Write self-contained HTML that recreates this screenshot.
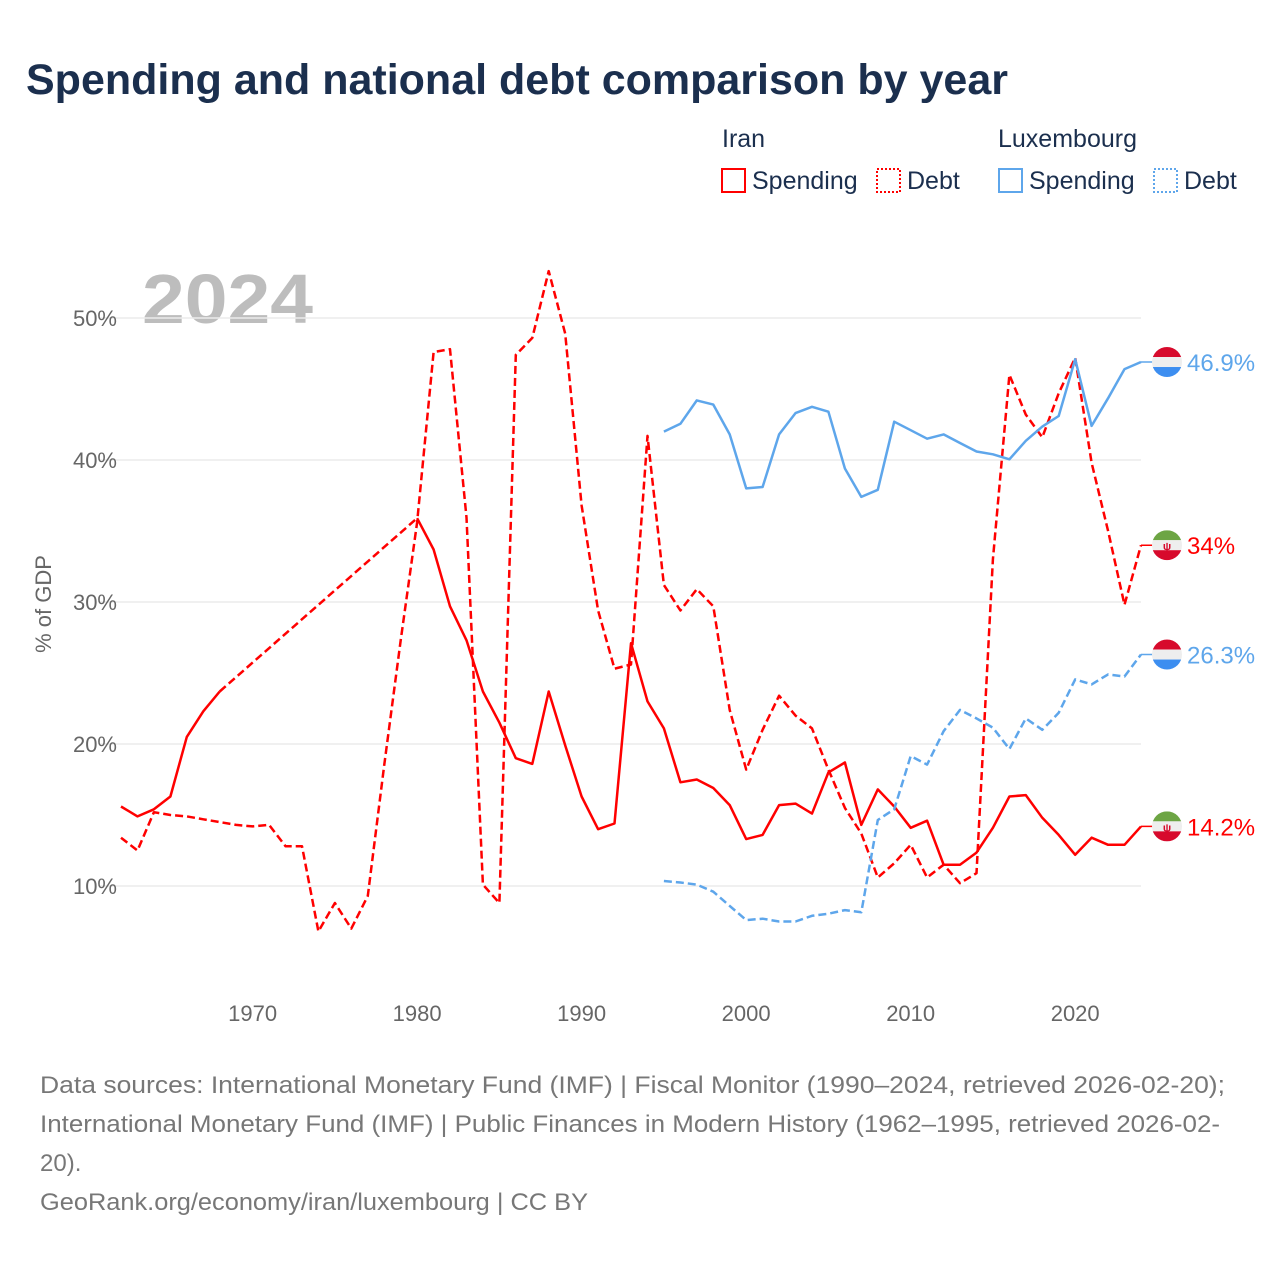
<!DOCTYPE html>
<html><head><meta charset="utf-8"><style>
body{margin:0;background:#fff;}
svg{display:block;font-family:"Liberation Sans",sans-serif;}
</style></head><body>
<svg id="chart" width="1280" height="1280" viewBox="0 0 1280 1280">
<text x="26" y="94" font-size="43" font-weight="bold" fill="#1b2f4e">Spending and national debt comparison by year</text>
<g font-size="25" fill="#1b2f4e">
<text x="722" y="147">Iran</text>
<text x="998" y="147">Luxembourg</text>
<g><rect x="722" y="169" width="23" height="23" fill="none" stroke="#ff0000" stroke-width="2"/><text x="752" y="189">Spending</text></g>
<g><rect x="877" y="169" width="23" height="23" fill="none" stroke="#ff0000" stroke-width="2" stroke-dasharray="2,2"/><text x="907" y="189">Debt</text></g>
<g><rect x="999" y="169" width="23" height="23" fill="none" stroke="#5ea6eb" stroke-width="2"/><text x="1029" y="189">Spending</text></g>
<g><rect x="1154" y="169" width="23" height="23" fill="none" stroke="#5ea6eb" stroke-width="2" stroke-dasharray="2,2"/><text x="1184" y="189">Debt</text></g>
</g>
<text x="142" y="323" font-size="70" font-weight="bold" fill="#bdbdbd" textLength="171" lengthAdjust="spacingAndGlyphs">2024</text>
<g id="grid"></g>
<g id="xaxis"></g>
<text transform="translate(51,604) rotate(-90)" text-anchor="middle" font-size="22" fill="#666">% of GDP</text>
<g id="series"></g>
<g id="ends"></g>
<g font-size="24" fill="#777">
<text x="40" y="1093" textLength="1185" lengthAdjust="spacingAndGlyphs">Data sources: International Monetary Fund (IMF) | Fiscal Monitor (1990–2024, retrieved 2026-02-20);</text>
<text x="40" y="1132" textLength="1180" lengthAdjust="spacingAndGlyphs">International Monetary Fund (IMF) | Public Finances in Modern History (1962–1995, retrieved 2026-02-</text>
<text x="40" y="1171">20).</text>
<text x="40" y="1210" textLength="548" lengthAdjust="spacingAndGlyphs">GeoRank.org/economy/iran/luxembourg | CC BY</text>
</g>
</svg>
<script>
const yTicks = [10, 20, 30, 40, 50];
const xTicks = [1970, 1980, 1990, 2000, 2010, 2020];
const iranYears = [1962,1963,1964,1965,1966,1967,1968,1969,1970,1971,1972,1973,1974,1975,1976,1977,1978,1979,1980,1981,1982,1983,1984,1985,1986,1987,1988,1989,1990,1991,1992,1993,1994,1995,1996,1997,1998,1999,2000,2001,2002,2003,2004,2005,2006,2007,2008,2009,2010,2011,2012,2013,2014,2015,2016,2017,2018,2019,2020,2021,2022,2023,2024];
const iranSpending = [15.6,14.9,15.4,16.3,20.5,22.3,23.7,null,null,null,null,null,null,null,null,null,null,null,35.9,33.7,29.7,27.3,23.7,21.5,19.0,18.6,23.7,19.9,16.3,14.0,14.4,27.1,23.0,21.1,17.3,17.5,16.9,15.7,13.3,13.6,15.7,15.8,15.1,18.0,18.7,14.3,16.8,15.6,14.1,14.6,11.5,11.5,12.35,14.1,16.3,16.4,14.8,13.6,12.2,13.4,12.9,12.9,14.2];
const iranDebt = [13.4,12.5,15.2,15.0,14.9,14.7,14.5,14.3,14.2,14.3,12.8,12.8,6.8,8.8,7.0,9.3,18.5,27.3,35.6,47.6,47.8,35.95,10.1,8.8,47.4,48.6,53.3,48.9,36.8,29.4,25.3,25.6,41.7,31.2,29.4,30.9,29.7,22.4,18.2,21.0,23.4,22.0,21.1,18.2,15.5,13.7,10.6,11.6,12.9,10.6,11.5,10.2,10.9,33.0,46.0,43.2,41.6,44.7,47.2,39.8,35.0,29.8,34.0];
const luxYears = [1995,1996,1997,1998,1999,2000,2001,2002,2003,2004,2005,2006,2007,2008,2009,2010,2011,2012,2013,2014,2015,2016,2017,2018,2019,2020,2021,2022,2023,2024];
const luxSpending = [42.0,42.55,44.2,43.9,41.8,38.0,38.1,41.8,43.3,43.75,43.4,39.4,37.4,37.9,42.7,42.1,41.5,41.8,41.2,40.6,40.4,40.05,41.35,42.35,43.1,47.1,42.4,44.35,46.4,46.9];
const luxDebt = [10.35,10.25,10.1,9.6,8.6,7.6,7.7,7.5,7.5,7.9,8.05,8.3,8.15,14.65,15.4,19.15,18.55,20.9,22.4,21.8,21.15,19.65,21.8,21.0,22.2,24.55,24.2,24.9,24.75,26.3];

const NS = 'http://www.w3.org/2000/svg';
const X0 = 121, X1 = 1141;
function xs(yr){ return X0 + (yr - 1962) * (X1 - X0) / (2024 - 1962); }
function ys(v){ return 886 - (v - 10) * 14.2; }
function mk(tag, attrs, parent){ const e = document.createElementNS(NS, tag); for (const k in attrs) e.setAttribute(k, attrs[k]); parent.appendChild(e); return e; }

const grid = document.getElementById('grid');
yTicks.forEach(t => {
  const l = mk('line', {x1: 100, x2: 1141, y1: ys(t), y2: ys(t), stroke: '#ebebeb', 'stroke-width': 1.5}, grid);
  
  
  const tx = mk('text', {x: 117, y: ys(t) + 8, 'text-anchor': 'end', 'font-size': 22, fill: '#666'}, grid);
  tx.textContent = t + '%';
  
  
});
const xa = document.getElementById('xaxis');
xTicks.forEach(t => {
  const tx = mk('text', {x: xs(t), y: 1021, 'text-anchor': 'middle', 'font-size': 22, fill: '#666'}, xa);
  tx.textContent = t;
  
  
});

const ser = document.getElementById('series');
function drawSeries(years, vals, color, dashed, name){
  const g = mk('g', {}, ser);
  
  
  let d = '', pen = false, gapD = '', last = null;
  years.forEach((yr, i) => {
    const v = vals[i];
    if (v == null) { pen = false; return; }
    const p = xs(yr).toFixed(1) + ',' + ys(v).toFixed(1);
    if (!pen && last) gapD += 'M' + last + 'L' + p;
    d += (pen ? 'L' : 'M') + p;
    pen = true; last = p;
  });
  mk('path', {d: d, fill: 'none', stroke: color, 'stroke-width': 2.5, 'stroke-linejoin': 'round', 'stroke-dasharray': dashed ? '8,4' : 'none'}, g);
  if (gapD) mk('path', {d: gapD, fill: 'none', stroke: color, 'stroke-width': 2.5, 'stroke-dasharray': '8,4'}, g);
}
drawSeries(iranYears, iranSpending, '#ff0000', false, 'iran-spending-line');
drawSeries(iranYears, iranDebt, '#ff0000', true, 'iran-debt-line');
drawSeries(luxYears, luxSpending, '#5ea6eb', false, 'lux-spending-line');
drawSeries(luxYears, luxDebt, '#5ea6eb', true, 'lux-debt-line');

const ends = document.getElementById('ends');
function endLabel(v, color, flag, name){
  const g = mk('g', {}, ends);
  
  
  const y = ys(v), cx = 1167;
  mk('line', {x1: X1, x2: cx, y1: y, y2: y, stroke: color, 'stroke-width': 1.5}, g);
  const cid = 'c' + name;
  const cp = mk('clipPath', {id: cid}, g);
  mk('circle', {cx: cx, cy: y, r: 15}, cp);
  const cols = flag === 'lux' ? ['#d70a2c', '#eeeeee', '#3d8ef0'] : ['#6da544', '#eeeeee', '#d70a2c'];
  const fg = mk('g', {'clip-path': 'url(#' + cid + ')'}, g);
  cols.forEach((c, i) => mk('rect', {x: cx - 15, y: y - 15 + i * 10, width: 30, height: 10, fill: c}, fg));
  if (flag === 'iran') {
    const e = mk('text', {x: cx, y: y + 5, 'text-anchor': 'middle', 'font-size': 11, fill: '#d70a2c', 'font-weight': 'bold'}, fg);
    e.textContent = 'ψ';
  }
  const t = mk('text', {x: 1187, y: y + 9, 'font-size': 24, fill: color}, g);
  t.textContent = (Math.round(v * 10) / 10) + '%';
}
endLabel(luxSpending[luxSpending.length - 1], '#5ea6eb', 'lux', 'lux-spending-end-label');
endLabel(iranDebt[iranDebt.length - 1], '#ff0000', 'iran', 'iran-debt-end-label');
endLabel(luxDebt[luxDebt.length - 1], '#5ea6eb', 'lux', 'lux-debt-end-label');
endLabel(iranSpending[iranSpending.length - 1], '#ff0000', 'iran', 'iran-spending-end-label');
</script>
</body></html>
